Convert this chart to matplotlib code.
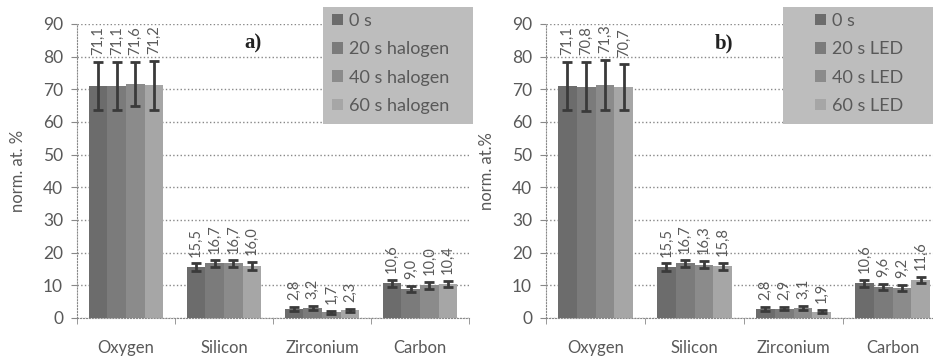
import matplotlib
matplotlib.use('Agg')
import matplotlib.pyplot as plt
from matplotlib.patches import Rectangle
import numpy as np

plt.rcParams['font.family'] = ['Lato', 'DejaVu Sans']

elements = ['Oxygen', 'Silicon', 'Zirconium', 'Carbon']

halogen_series = ['0 s', '20 s halogen', '40 s halogen', '60 s halogen']
halogen_values = [
    [71.1, 15.5, 2.8, 10.6],
    [71.1, 16.7, 3.2, 9.0],
    [71.6, 16.7, 1.7, 10.0],
    [71.2, 16.0, 2.3, 10.4],
]
halogen_errors = [
    [7.3, 1.2, 0.6, 1.0],
    [7.4, 1.1, 0.6, 0.9],
    [6.8, 1.1, 0.4, 1.0],
    [7.4, 1.2, 0.5, 1.0],
]

led_series = ['0 s', '20 s LED', '40 s LED', '60 s LED']
led_values = [
    [71.1, 15.5, 2.8, 10.6],
    [70.8, 16.7, 2.9, 9.6],
    [71.3, 16.3, 3.1, 9.2],
    [70.7, 15.8, 1.9, 11.6],
]
led_errors = [
    [7.3, 1.2, 0.6, 1.0],
    [7.5, 1.1, 0.5, 0.9],
    [7.6, 1.1, 0.6, 0.9],
    [7.1, 1.1, 0.5, 1.0],
]

bar_colors = ['#6c6c6c', '#7b7b7b', '#8b8b8b', '#a6a6a6']
text_color = '#595959'


def fmt(v):
    return ('%.1f' % v).replace('.', ',')


def draw_panel(ax, series, values, errors, tag, ylabel, legend_bg, legend_x):
    x = np.arange(len(elements))
    width = 0.19
    handles = []
    for i, name in enumerate(series):
        pos = x + (i - 1.5) * width
        bars = ax.bar(pos, values[i], width, color=bar_colors[i], label=name,
                      yerr=errors[i], error_kw=dict(ecolor='#3a3a3a', elinewidth=2,
                                                    capsize=3.5, capthick=2))
        handles.append(bars)
        for p, v, e in zip(pos, values[i], errors[i]):
            ax.annotate(fmt(v), (p, v + e), xytext=(0, 5), textcoords='offset points',
                        rotation=90, ha='center', va='bottom', fontsize=10.5,
                        color=text_color)

    ax.set_ylim(0, 90)
    ax.set_xlim(-0.5, len(elements) - 0.5)
    ax.set_yticks(range(0, 91, 10))
    ax.yaxis.grid(True, linestyle=':', color='#888888', linewidth=1)
    ax.set_axisbelow(True)
    ax.set_xticks(x)
    ax.set_xticklabels(elements)
    ax.set_xticks(np.arange(-0.5, len(elements), 1.0), minor=True)
    ax.tick_params(axis='x', which='major', length=0, pad=16, labelsize=12,
                   labelcolor=text_color)
    ax.tick_params(axis='x', which='minor', length=4, color='#888888')
    ax.tick_params(axis='y', length=4, color='#888888', labelsize=12.5,
                   labelcolor=text_color, pad=6)
    for s in ['top', 'right']:
        ax.spines[s].set_visible(False)
    for s in ['left', 'bottom']:
        ax.spines[s].set_linestyle(':')
        ax.spines[s].set_color('#888888')
    ax.set_ylabel(ylabel, fontsize=12, color=text_color, labelpad=12)

    ax.text(0.45, 0.935, tag, transform=ax.transAxes, fontsize=15,
            fontweight='bold', family='Liberation Serif', color='#222222',
            ha='center', va='center')

    fig = ax.figure
    bx, by, bw, bh = legend_bg
    fig.patches.append(Rectangle((bx / 933, 1 - (by + bh) / 360), bw / 933, bh / 360,
                                 transform=fig.transFigure, facecolor='#bdbdbd',
                                 edgecolor='none', zorder=5))
    leg = fig.legend(handles, series, loc='upper left',
                     bbox_to_anchor=(legend_x / 933, 1 - 13 / 360),
                     frameon=False, fontsize=13, handlelength=0.6, handleheight=0.6,
                     handletextpad=0.35, labelspacing=0.68,
                     borderpad=0, borderaxespad=0)
    leg.set_zorder(6)
    for t in leg.get_texts():
        t.set_color(text_color)


fig = plt.figure(figsize=(9.33, 3.6), dpi=100)
ax1 = fig.add_axes([77 / 933, 42 / 360, 392 / 933, 294 / 360])
ax2 = fig.add_axes([546 / 933, 42 / 360, 396 / 933, 294 / 360])

draw_panel(ax1, halogen_series, halogen_values, halogen_errors, 'a)',
           'norm. at. %', (323, 7, 150, 117), 332)
draw_panel(ax2, led_series, led_values, led_errors, 'b)',
           'norm. at.%', (783, 7, 150, 117), 815)

fig.savefig('out.png', dpi=100)
